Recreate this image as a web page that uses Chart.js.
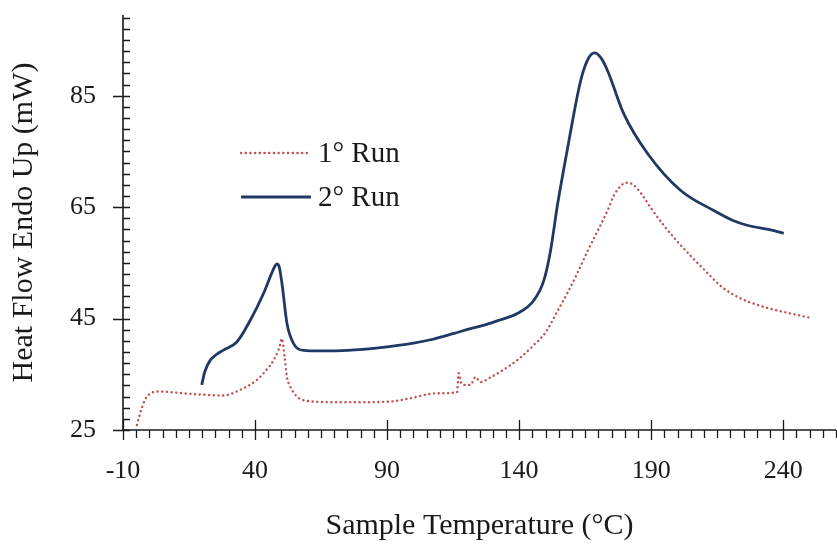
<!DOCTYPE html>
<html>
<head>
<meta charset="utf-8">
<script src="https://cdn.jsdelivr.net/npm/chart.js@4.4.1/dist/chart.umd.min.js"></script>
<style>
  html, body { margin: 0; padding: 0; background: #fff; }
  #wrap { width: 837px; height: 544px; position: relative; }
</style>
</head>
<body>
<div id="wrap"><canvas id="dsc"></canvas></div>
<script>
// 1° run (dotted red)
var run1Temp = [-4.7, -3.5, -1.7, 0.2, 3, 8, 15, 22, 28, 34.4, 40.7, 44, 47, 49, 50.2, 51.2, 52.1, 53.3, 55.9, 60,
  70, 80, 91, 98.8, 106.4, 110, 116.5, 117.1, 118, 119, 121.6, 123.5, 125.4, 129, 134, 140, 145, 150, 154.5, 158.2,
  162, 166, 170, 173.5, 176, 178.5, 180.4, 183, 186, 190, 195, 200, 209, 217, 224, 230, 236.5, 243, 249.7];
var run1Heat = [25.9, 28, 30.4, 31.5, 31.9, 31.8, 31.5, 31.3, 31.2, 32.2, 34, 35.6, 37.5, 39.5, 41.4, 38, 34.5, 32.8, 31, 30.2,
  30, 30, 30.1, 30.7, 31.5, 31.6, 31.8, 35.2, 33.5, 33.1, 33.1, 34.5, 33.6, 34.4, 35.8, 37.8, 40, 42.5, 46.3, 49.5,
  53.1, 57.2, 61, 64.4, 67.2, 68.8, 69.4, 69.1, 67.6, 64.8, 61.6, 58.8, 54.3, 50.6, 48.6, 47.5, 46.6, 45.9, 45.2];

// 2° run (solid navy)
var run2Temp = [19.8, 21, 23, 25.5, 27.9, 33.1, 38.2, 43.2, 46, 47.5, 48.3, 49.2, 50.2, 52.1, 54.6, 58.4, 64.7, 75, 87.5, 100,
  106.4, 115, 121.6, 128, 133, 139.3, 145.6, 149.4, 151.9, 154.6, 158.4, 163.3, 166, 168.6, 171, 173.5, 179.6, 188.7, 201.2, 213.7,
  221, 226, 236.5, 240.2];
var run2Heat = [33.1, 35.5, 37.5, 38.6, 39.3, 40.8, 44.7, 49.5, 52.8, 54.4, 54.8, 54.2, 51.3, 44.1, 40.5, 39.3, 39.2, 39.3, 39.8, 40.6,
  41.2, 42.3, 43.2, 44, 44.8, 45.9, 48.3, 51.9, 57.2, 65.6, 75.7, 87.7, 91.5, 92.7, 91.8, 89.5, 81.8, 74.6, 68, 64.4,
  62.6, 61.8, 60.8, 60.3];

var seriesNames = ['1° Run', '2° Run'];
var xTickValues = [-10, 40, 90, 140, 190, 240];
var yTickValues = [25, 45, 65, 85];

var serif = '"Liberation Serif", "Times New Roman", serif';
var inkColor = '#1a1a1a';

function toPoints(xs, ys) {
  var pts = [];
  for (var i = 0; i < xs.length; i++) pts.push({ x: xs[i], y: ys[i] });
  return pts;
}

// axis lines + major/minor tick marks
var axisTicks = {
  id: 'axisTicks',
  afterDatasetsDraw: function(chart) {
    var ctx = chart.ctx, xs = chart.scales.x, ys = chart.scales.y;
    var x0 = xs.getPixelForValue(xs.min), y0 = ys.getPixelForValue(ys.min);
    var xEnd = xs.getPixelForValue(xs.max), yTop = ys.getPixelForValue(ys.max);
    ctx.save();
    ctx.strokeStyle = inkColor;
    ctx.lineWidth = 1.6;
    ctx.beginPath();
    ctx.moveTo(x0, yTop); ctx.lineTo(x0, y0);
    ctx.moveTo(x0, y0); ctx.lineTo(xEnd, y0);
    ctx.stroke();
    ctx.lineWidth = 1.3;
    ctx.beginPath();
    for (var v = ys.min; v <= ys.max; v += 2) {
      var py = Math.round(ys.getPixelForValue(v)) + 0.5;
      var major = yTickValues.indexOf(v) >= 0;
      ctx.moveTo(major ? x0 - 10 : x0, py);
      ctx.lineTo(x0 + 7, py);
    }
    for (var t = xs.min; t <= xs.max; t += 5) {
      var px = Math.round(xs.getPixelForValue(t)) + 0.5;
      var maj = xTickValues.indexOf(t) >= 0;
      ctx.moveTo(px, maj ? y0 - 10 : y0);
      ctx.lineTo(px, y0 + (maj ? 10 : 8));
    }
    ctx.stroke();
    ctx.restore();
  }
};

// legend floating inside the plot
var floatLegend = {
  id: 'floatLegend',
  afterDraw: function(chart) {
    var ctx = chart.ctx, area = chart.chartArea;
    var left = area.left + 118, rows = [area.top + 138, area.top + 182];
    ctx.save();
    ctx.font = '29px ' + serif;
    ctx.textBaseline = 'middle';
    ctx.fillStyle = inkColor;
    chart.data.datasets.forEach(function(ds, i) {
      var y = rows[i];
      ctx.beginPath();
      ctx.strokeStyle = ds.borderColor;
      ctx.lineWidth = ds.borderWidth;
      ctx.lineCap = ds.borderCapStyle || 'butt';
      ctx.setLineDash(ds.borderDash || []);
      ctx.moveTo(left, y);
      ctx.lineTo(left + 70, y);
      ctx.stroke();
      ctx.setLineDash([]);
      ctx.fillText(ds.label, left + 77, y + 1);
    });
    ctx.restore();
  }
};

var ctx = document.getElementById('dsc');

new Chart(ctx, {
  type: 'line',
  data: {
    datasets: [
      {
        label: seriesNames[0],
        data: toPoints(run1Temp, run1Heat),
        borderColor: '#c0504d',
        borderWidth: 2.4,
        borderDash: [0.1, 4.6],
        borderCapStyle: 'round',
        cubicInterpolationMode: 'monotone',
        pointRadius: 0,
        fill: false
      },
      {
        label: seriesNames[1],
        data: toPoints(run2Temp, run2Heat),
        borderColor: '#1f3864',
        borderWidth: 2.8,
        cubicInterpolationMode: 'monotone',
        pointRadius: 0,
        fill: false
      }
    ]
  },
  options: {
    responsive: true,
    maintainAspectRatio: false,
    animation: false,
    layout: { padding: { left: 0, right: 1, top: 15, bottom: 0 } },
    plugins: {
      legend: { display: false },
      tooltip: { enabled: false }
    },
    scales: {
      x: {
        type: 'linear',
        min: -10,
        max: 260,
        grid: { display: false, drawTicks: false },
        border: { display: false },
        afterBuildTicks: function(axis) {
          axis.ticks = xTickValues.map(function(v) { return { value: v }; });
        },
        afterFit: function(axis) {
          axis.height = 114;
          axis.paddingLeft = 0; axis.paddingRight = 0;
        },
        ticks: {
          autoSkip: false,
          maxRotation: 0,
          padding: 26,
          color: inkColor,
          font: { family: serif, size: 26 }
        },
        title: {
          display: true,
          text: 'Sample Temperature (°C)',
          color: inkColor,
          font: { family: serif, size: 30 },
          padding: { top: 0, bottom: 0 }
        }
      },
      y: {
        min: 25,
        max: 99.5,
        grid: { display: false, drawTicks: false },
        border: { display: false },
        afterBuildTicks: function(axis) {
          axis.ticks = yTickValues.map(function(v) { return { value: v }; });
        },
        afterFit: function(axis) {
          axis.width = 123;
          axis.paddingTop = 0; axis.paddingBottom = 0;
        },
        ticks: {
          padding: 27,
          color: inkColor,
          font: { family: serif, size: 26 }
        },
        title: {
          display: true,
          text: 'Heat Flow Endo Up (mW)',
          color: inkColor,
          font: { family: serif, size: 30 },
          padding: { top: 6, bottom: 0 }
        }
      }
    }
  },
  plugins: [axisTicks, floatLegend]
});
</script>
</body>
</html>
